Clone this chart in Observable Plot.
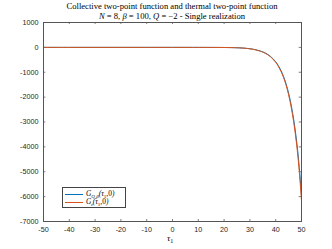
<!DOCTYPE html>
<html><head><meta charset="utf-8">
<script src="https://cdn.jsdelivr.net/npm/d3@7"></script>
<script src="https://cdn.jsdelivr.net/npm/@observablehq/plot@0.6"></script>
<style>
body{margin:0;background:#fff;}
#wrap{position:relative;width:332px;height:249px;font-family:"Liberation Serif",serif;color:#000;}
.t{position:absolute;left:0;width:344px;text-align:center;font-size:8.6px;white-space:nowrap;line-height:1;}
#leg{position:absolute;left:62px;top:187px;width:62px;height:19px;border:1px solid #444;background:#fff;font-size:7.4px;line-height:1;}
.row{position:absolute;left:2px;height:8px;white-space:nowrap;}
.sw{position:absolute;left:0;top:4px;width:18px;height:0;border-top:1px solid;}
.lab{position:absolute;left:21px;top:0px;font-style:italic;line-height:1;}
.sb{font-size:5px;position:relative;top:1.5px;}
.n{font-style:normal;}
#xl{position:absolute;left:167px;top:234px;font-size:9px;font-style:italic;line-height:1;}
</style></head>
<body><div id="wrap">
<div class="t" style="top:2px">Collective two-point function and thermal two-point function</div>
<div class="t" style="top:12px"><i>N</i> = 8, <i>β</i> = 100, <i>Q</i> = −2 - Single realization</div>
<div id="chart"></div>
<div id="xl">τ<span class="sb n" style="font-size:6px">1</span></div>
<div id="leg">
 <div class="row" style="top:2px"><span class="sw" style="border-color:#0072BD"></span><span class="lab">G<span class="sb">Q,β</span>(τ<span class="sb n">1</span>,<span class="n">0</span>)</span></div>
 <div class="row" style="top:10px"><span class="sw" style="border-color:#D95319"></span><span class="lab">G<span class="sb">t</span>(τ<span class="sb n">1</span>,<span class="n">0</span>)</span></div>
</div>
</div>
<script>
const tau = [-50,-40,-30,-20,-10,0,10,15,20,24,27,30,32,34,36,38,40,41,42,43,44,45,46,47,48,49,50];
const gQB = [0,0,0,0,0,0,-1,-2,-5,-12,-25,-55,-90,-145,-230,-365,-580,-730,-920,-1160,-1460,-1840,-2320,-2920,-3680,-4660,-5950];
const gT  = [0,0,0,0,0,0,-1,-2,-5,-12,-26,-57,-93,-150,-238,-378,-600,-757,-953,-1200,-1510,-1905,-2400,-3020,-3800,-4820,-6150];
const xTicks = [-50,-40,-30,-20,-10,0,10,20,30,40,50];
const yTicks = [-7000,-6000,-5000,-4000,-3000,-2000,-1000,0,1000];
const xDom = [-50,50], yDom = [-7000,1000];

const dataQ = tau.map((t,i)=>({t, v:gQB[i]}));
const dataT = tau.map((t,i)=>({t, v:gT[i]}));
const tickC = "#262626";
const xLen = 0.9, yLen = 80;

const chart = Plot.plot({
  width: 332, height: 249,
  marginLeft: 43, marginRight: 31, marginTop: 22, marginBottom: 28,
  style: {fontFamily: "Liberation Sans, Arial, sans-serif", fontSize: "7.2px", color: "#262626", background: "#fff"},
  x: {domain: xDom, ticks: xTicks, tickSize: 0, tickPadding: 5, label: null, tickFormat: d => String(d)},
  y: {domain: yDom, ticks: yTicks, tickSize: 0, tickPadding: 5, label: null, tickFormat: d => String(d)},
  marks: [
    Plot.ruleX(xTicks, {x: d=>d, y1: yDom[0], y2: yDom[0]+yLen, stroke: tickC, strokeWidth: 0.6}),
    Plot.ruleX(xTicks, {x: d=>d, y1: yDom[1], y2: yDom[1]-yLen, stroke: tickC, strokeWidth: 0.6}),
    Plot.ruleY(yTicks, {y: d=>d, x1: xDom[0], x2: xDom[0]+xLen, stroke: tickC, strokeWidth: 0.6}),
    Plot.ruleY(yTicks, {y: d=>d, x1: xDom[1], x2: xDom[1]-xLen, stroke: tickC, strokeWidth: 0.6}),
    Plot.line(dataQ, {x:"t", y:"v", stroke:"#0072BD", strokeWidth:1, curve:"catmull-rom"}),
    Plot.line(dataT, {x:"t", y:"v", stroke:"#D95319", strokeWidth:1, curve:"catmull-rom"}),
    Plot.frame({stroke: "#555", strokeWidth: 1})
  ]
});
document.getElementById("chart").appendChild(chart);
</script>
</body></html>
